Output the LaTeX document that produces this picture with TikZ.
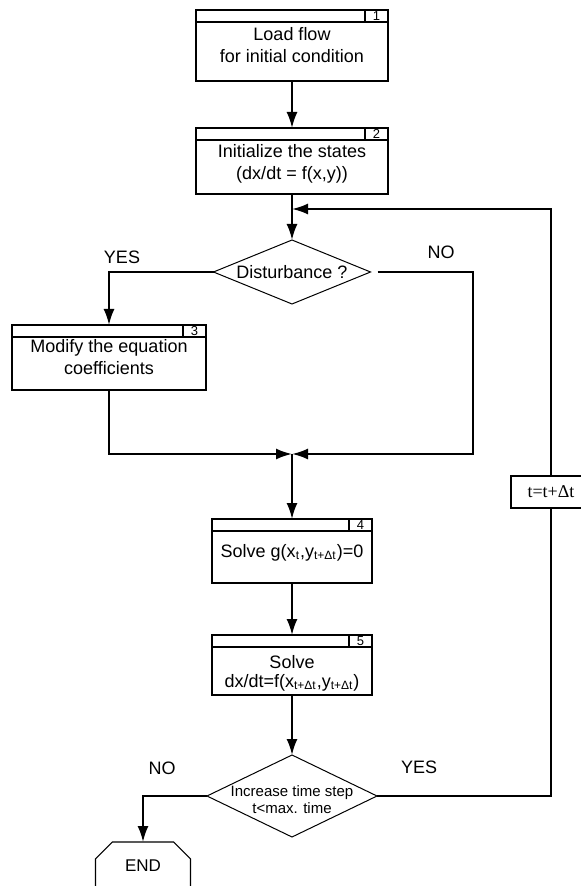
\documentclass[tikz,border=0pt]{standalone}
\usepackage{fontspec}
\setmainfont{Liberation Sans}
\newfontfamily\timesfont{Liberation Serif}
\usetikzlibrary{positioning,shapes.geometric,shapes.misc,arrows.meta}

\begin{document}
\begin{tikzpicture}[
	node distance=30pt and 0pt,
	procbox/.style={draw, rectangle, line width=0.6pt, inner sep=1pt, outer sep=0pt, align=center, font=\fontsize{9}{11}\selectfont},
	hdrbox/.style={draw, rectangle, line width=0.6pt, inner sep=0pt, outer sep=0pt, minimum height=6pt},
	numcell/.style={draw, rectangle, line width=0.6pt, inner sep=0pt, outer sep=0pt, minimum width=11.5pt, minimum height=6pt, font=\fontsize{6.5}{6.5}\selectfont},
	decision/.style={draw, diamond, line width=0.5pt, outer sep=0pt, align=center},
	endbox/.style={draw, chamfered rectangle, chamfered rectangle corners={north west,north east}, chamfered rectangle xsep=5.5pt, chamfered rectangle ysep=5.5pt, line width=0.6pt, inner sep=0pt, outer sep=0pt, font=\fontsize{8.5}{10}\selectfont},
	arr/.style={line width=1pt, -{Latex[length=8pt,width=5.5pt]}},
	conn/.style={line width=1pt},
	lbl/.style={font=\fontsize{9}{11}\selectfont}
	]

	\useasboundingbox (0,0) rectangle (290.5pt,-443pt);
	\clip (0,0) rectangle (290.5pt,-443pt);

	\node[procbox, minimum width=96pt, minimum height=35.5pt] (load) at (146pt,-22.75pt) {Load flow\\for initial condition};
	\node[procbox, minimum width=96pt, minimum height=33pt, text height=20pt, text depth=1.6pt, below=23.5pt of load] (init) {Initialize the states\\(dx/dt = f(x,y))};
	\coordinate[below=7.5pt of init] (loopin);
	\node[decision, lbl, inner sep=0pt, aspect=2.45, minimum width=78.5pt, minimum height=32pt, below=23pt of init] (dist) {Disturbance ?};
	\node[procbox, minimum width=97pt, minimum height=32.5pt] (modify) at (54.5pt,-178.75pt) {Modify the equation\\coefficients};
	\coordinate (nocorner) at (236.5pt,-136pt);
	\coordinate[below=75pt of dist] (join);
	\node[procbox, minimum width=80pt, minimum height=32pt, text height=7pt, text depth=1pt, below=32.5pt of join] (solveg) {Solve g(x\textsubscript{t},y\textsubscript{t+Δt})=0};
	\node[procbox, minimum width=80pt, minimum height=30pt, text height=22pt, text depth=0pt, below=26pt of solveg, font=\fontsize{9}{9.5}\selectfont] (solvef) {Solve\\dx/dt=f(x\textsubscript{t+Δt},y\textsubscript{t+Δt})};
	\node[decision, inner sep=-4pt, aspect=2.07, minimum width=85pt, minimum height=41pt, text height=17pt, text depth=0pt, below=30pt of solvef, font=\fontsize{7.5}{8.5}\selectfont] (check) {Increase time step\\t<max. time};
	\node[endbox, minimum width=47.5pt, minimum height=24pt, anchor=north] (fin) at (71.5pt,-421pt) {END};

	\node[draw, fill=white, line width=0.6pt, minimum width=40pt, minimum height=16pt, font=\timesfont\fontsize{9}{11}\selectfont] (tstep) at (275.5pt,-246pt) {t=t+Δt};

	\node[lbl] (yes1) at (61pt,-128.5pt) {YES};
	\node[lbl] (no1) at (220.5pt,-126pt) {NO};
	\node[lbl] (no2) at (81pt,-384pt) {NO};
	\node[lbl] (yes2) at (209.5pt,-383.5pt) {YES};

	% header strips with step numbers
	\foreach \b/\k/\w in {load/1/96pt, init/2/96pt, modify/3/97pt, solveg/4/80pt, solvef/5/80pt}{
		\node[hdrbox, minimum width=\w, anchor=north] (\b-h) at (\b.north) {};
		\node[numcell, anchor=north east] at (\b.north east) {\k};
	}

	\path (load) edge[arr] (init)
	(init) edge[arr] (dist)
	(join) edge[arr] (solveg)
	(solveg) edge[arr] (solvef)
	(solvef) edge[arr] (check);

	\draw[arr] (dist.west) -| (modify);
	\draw[arr, shorten <=3.5pt] (dist.east) -- (nocorner) |- (join);
	\draw[arr] (modify) |- (join);
	\draw[arr] (check.west) -| (fin);
	\draw[conn] (check.east) -| (tstep.south);
	\draw[arr] (tstep.north) |- (loopin);

\end{tikzpicture}
\end{document}
